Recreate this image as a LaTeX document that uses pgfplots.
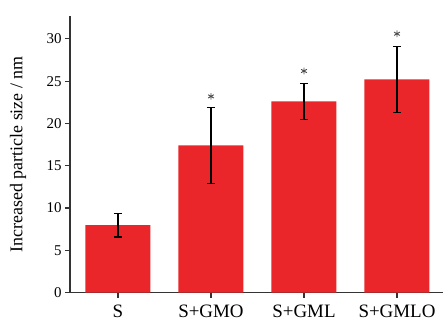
\documentclass[border=0pt]{standalone}
\usepackage{fontspec}
\setmainfont{Liberation Serif}
\usepackage{pgfplots}
\pgfplotsset{compat=1.18}
\definecolor{barred}{RGB}{234,38,43}
\begin{document}
\begin{tikzpicture}
\begin{axis}[
 scale only axis, width=373bp, height=276.7bp,
 xmin=-0.516, xmax=3.495, ymin=0, ymax=32.7,
 axis lines*=left,
 axis line style={line width=1.2bp, black!80},
 xtick={0,1,2,3}, xticklabels={S,S+GMO,S+GML,S+GMLO},
 ytick={0,5,...,30},
 tick style={line width=1.2bp, black!80},
 major tick length=5bp, tick align=outside,
 /pgf/number format/assume math mode=true,
 yticklabel style={font=\fontsize{15}{15}\selectfont},
 xticklabel style={font=\fontsize{19}{19}\selectfont, yshift=-4bp},
 ylabel={Increased particle size / nm},
 ylabel style={font=\fontsize{18}{18}\selectfont, at={(axis description cs:-0.139,0.5)}, anchor=center},
 clip=false,
]
\addplot[ybar, bar width=65bp, fill=barred, draw=none,
  error bars/.cd, y dir=both, y explicit,
  error bar style={line width=1.3bp, black},
  error mark options={rotate=90, mark size=4bp, line width=1.3bp, black}]
 coordinates {(0,8.0) +- (0,1.4) (1,17.4) +- (0,4.5) (2,22.6) +- (0,2.1) (3,25.2) +- (0,3.9)};
\addplot[only marks, mark=asterisk, mark size=3.3bp, black!70, line width=0.9bp]
 coordinates {(1,23.2) (2,26.2) (3,30.6)};
\end{axis}
\pgfresetboundingbox
\path (current axis.south west) ++(-70bp,-29.3bp) rectangle ([yshift=16bp]current axis.north east);
\end{tikzpicture}
\end{document}
